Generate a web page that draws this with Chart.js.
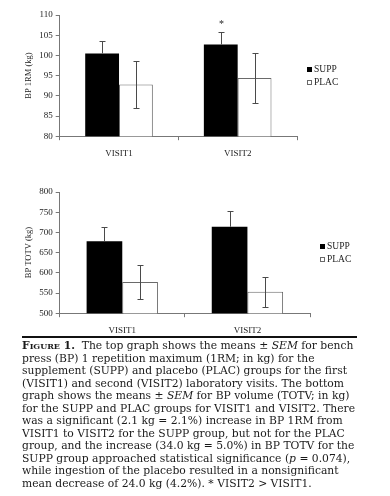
<!DOCTYPE html>
<html>
<head>
<meta charset="utf-8">
<script src="https://cdn.jsdelivr.net/npm/chart.js@4.4.1/dist/chart.umd.min.js"></script>
<style>
  html, body { margin: 0; padding: 0; background: #fff; }
  body { width: 390px; height: 496px; position: relative; overflow: hidden; }
  .box { position: absolute; left: 0; width: 390px; }
  #top { top: 0; height: 168px; }
  #bottom { top: 176px; height: 168px; }
  #rule { position: absolute; left: 22px; top: 336px; width: 335px; height: 2px; background: #111; }
  #caption {
    position: absolute; left: 22px; top: 340px; width: 360px;
    font-family: 'DejaVu Serif', serif; font-size: 10.75px; line-height: 12.55px;
    color: #1a1a1a; white-space: nowrap;
  }
  #caption b { font-variant: small-caps; }
</style>
</head>
<body>
<div class="box" id="top"><canvas id="rmChart"></canvas></div>
<div class="box" id="bottom"><canvas id="totvChart"></canvas></div>
<div id="rule"></div>
<div id="caption">
<b>Figure 1.</b>&nbsp; The top graph shows the means ± <i>SEM</i> for bench<br>
press (BP) 1 repetition maximum (1RM; in kg) for the<br>
supplement (SUPP) and placebo (PLAC) groups for the first<br>
(VISIT1) and second (VISIT2) laboratory visits. The bottom<br>
graph shows the means ± <i>SEM</i> for BP volume (TOTV; in kg)<br>
for the SUPP and PLAC groups for VISIT1 and VISIT2. There<br>
was a significant (2.1 kg = 2.1%) increase in BP 1RM from<br>
VISIT1 to VISIT2 for the SUPP group, but not for the PLAC<br>
group, and the increase (34.0 kg = 5.0%) in BP TOTV for the<br>
SUPP group approached statistical significance (<i>p</i> = 0.074),<br>
while ingestion of the placebo resulted in a nonsignificant<br>
mean decrease of 24.0 kg (4.2%). * VISIT2 &gt; VISIT1.
</div>
<script>
// data
const visits = ['VISIT1', 'VISIT2'];

const rmSupp = [100.5, 102.7];
const rmSuppSem = [3.0, 3.0];
const rmPlac = [92.8, 94.4];
const rmPlacSem = [5.9, 6.2];
const rmMarks = ['', '*'];   // significance marks over SUPP

const totvSupp = [678, 714];
const totvSuppSem = [35, 39];
const totvPlac = [577, 553];
const totvPlacSem = [43, 37];

const serif = 'Liberation Serif';
const ink = '#222';

// draws +/- SEM whiskers and the significance asterisk
const errorBars = {
    id: 'errorBars',
    afterDatasetsDraw(chart) {
        const ctx = chart.ctx;
        const y = chart.scales.y;
        ctx.save();
        ctx.strokeStyle = '#4a4a4a';
        ctx.lineWidth = 1;
        chart.data.datasets.forEach((ds, i) => {
            chart.getDatasetMeta(i).data.forEach((bar, j) => {
                const v = ds.data[j], e = ds.sem[j];
                const x = Math.round(bar.x) + 0.5;
                const top = Math.round(y.getPixelForValue(v + e)) + 0.5;
                const bot = ds.lowerErr ? Math.round(y.getPixelForValue(v - e)) + 0.5 : bar.y;
                ctx.beginPath();
                ctx.moveTo(x, top); ctx.lineTo(x, bot);
                ctx.moveTo(x - 3, top); ctx.lineTo(x + 3, top);
                if (ds.lowerErr) { ctx.moveTo(x - 3, bot); ctx.lineTo(x + 3, bot); }
                ctx.stroke();
                if (ds.marks && ds.marks[j]) {
                    ctx.fillStyle = ink;
                    ctx.font = '10px ' + serif;
                    ctx.textAlign = 'center';
                    ctx.fillText(ds.marks[j], x, top - 6);
                }
            });
        });
        ctx.restore();
    }
};

// small Excel-style legend just right of the plot area
const sideLegend = {
    id: 'sideLegend',
    afterDraw(chart) {
        const ctx = chart.ctx;
        const area = chart.chartArea;
        const mid = (area.top + area.bottom) / 2;
        ctx.save();
        ctx.font = '9.5px ' + serif;
        ctx.textBaseline = 'middle';
        chart.data.datasets.forEach((ds, i) => {
            const cy = Math.round(mid + (i - 0.5) * 13.2);
            const x = Math.round(area.right) + 10;
            ctx.fillStyle = ds.backgroundColor;
            ctx.fillRect(x, cy - 2, 5, 5);
            if (ds.borderWidth) {
                ctx.strokeStyle = ds.borderColor;
                ctx.lineWidth = 1;
                ctx.strokeRect(x + 0.5, cy - 1.5, 4, 4);
            }
            ctx.fillStyle = ink;
            ctx.fillText(ds.label, x + 7, cy + 0.5);
        });
        ctx.restore();
    }
};

function makeChart(id, supp, suppSem, plac, placSem, marks, yOpts, title, pad) {
    return new Chart(document.getElementById(id), {
        type: 'bar',
        data: {
            labels: visits,
            datasets: [
                { label: 'SUPP', data: supp, sem: suppSem, marks: marks, lowerErr: false,
                  backgroundColor: '#000', borderColor: '#000', borderWidth: 0 },
                { label: 'PLAC', data: plac, sem: placSem, lowerErr: true,
                  backgroundColor: '#fff', borderColor: '#6a6a6a', borderWidth: 1 }
            ]
        },
        options: {
            responsive: true,
            maintainAspectRatio: false,
            animation: false,
            layout: { padding: pad },
            datasets: { bar: { categoryPercentage: 0.57, barPercentage: 1.0 } },
            plugins: {
                tooltip: { enabled: false },
                legend: { display: false }
            },
            scales: {
                x: {
                    grid: { drawOnChartArea: false, tickLength: 4, color: '#777' },
                    border: { color: '#777' },
                    ticks: { color: ink, padding: 8, font: { family: serif, size: 9 } }
                },
                y: Object.assign({
                    grid: { drawOnChartArea: false, tickLength: 4, color: '#777' },
                    border: { color: '#777' },
                    title: { display: true, text: title, color: ink, padding: 2,
                             font: { family: serif, size: 8.5 } }
                }, yOpts)
            }
        },
        plugins: [errorBars, sideLegend]
    });
}

makeChart('rmChart', rmSupp, rmSuppSem, rmPlac, rmPlacSem, rmMarks,
    { min: 80, max: 110, ticks: { stepSize: 5, color: ink, padding: 3, font: { family: serif, size: 9 } } },
    'BP 1RM (kg)', { top: 15, left: 22, right: 93, bottom: 1 });

makeChart('totvChart', totvSupp, totvSuppSem, totvPlac, totvPlacSem, null,
    { min: 500, max: 800, ticks: { stepSize: 50, color: ink, padding: 3, font: { family: serif, size: 9 } } },
    'BP TOTV (kg)', { top: 16, left: 22, right: 80, bottom: 0 });
</script>
</body>
</html>
